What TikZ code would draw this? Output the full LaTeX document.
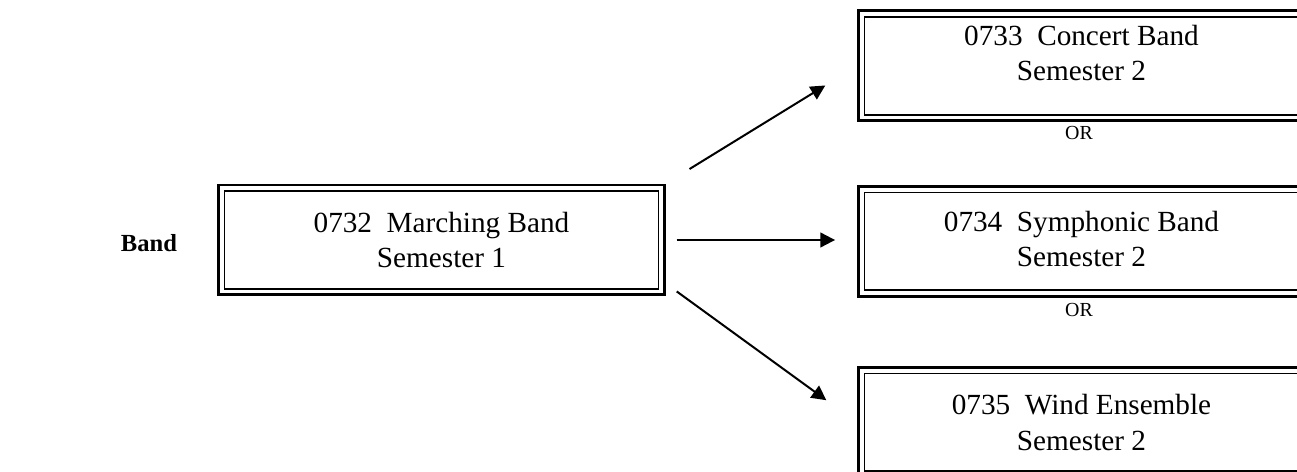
\documentclass[tikz,border=0pt]{standalone}
\usepackage{fontspec}
\setmainfont{Liberation Serif}
\usetikzlibrary{arrows.meta}

\tikzset{
  coursebox/.style={draw, line width=2.25pt, minimum width=11.8cm, minimum height=2.91cm,
    align=center, font=\fontsize{22}{26.5}\selectfont,
    path picture={\draw[line width=1.2pt]
      ([shift={(4.65pt,4.65pt)}]path picture bounding box.south west) rectangle
      ([shift={(-4.65pt,-4.65pt)}]path picture bounding box.north east);}},
  ortext/.style={font=\fontsize{15}{18}\selectfont},
}

\begin{document}
\begin{tikzpicture}[line width=1.5pt,>={Triangle[length=11pt,width=11pt]}]

    \useasboundingbox (0,0) rectangle (34.316,12.488);

    % --------------------------------------------------------- %
    % ------------- title
    % --------------------------------------------------------- %
    \node[font=\fontsize{18.5}{21}\selectfont\bfseries] (band) at (3.942,6.059) {Band};

    % --------------------------------------------------------- %
    % ------------ Semester 1
    % --------------------------------------------------------- %
    \node[coursebox] (marching) at (11.681,6.138) {0732\ \ Marching Band \\ Semester 1};

    % --------------------------------------------------------- %
    % ------------ Semester 2
    % --------------------------------------------------------- %
    % --- Concert node
    \node[coursebox, text depth=19.5pt] (concert) at (28.614,10.742) {0733\ \ Concert Band \\ Semester 2};
    \node[ortext] (or1) at (28.548,8.969) {OR};
    \draw [->, shorten <=20.8pt, shorten >=28pt] (marching.north east) -- (concert.west);
    % --- Symphonic node
    \node[coursebox, text depth=4.5pt] (symphonic) at (28.614,6.099) {0734\ \ Symphonic Band \\ Semester 2};
    \node[ortext] (or2) at (28.548,4.286) {OR};
    \draw [->, shorten <=8pt, shorten >=16.5pt] (marching.east) -- (marching.east -| symphonic.west);
    % --- Wind node
    \node[coursebox] (wind) at (28.614,1.310) {0735\ \ Wind Ensemble \\ Semester 2};
    \draw [->, shorten <=10pt, shorten >=28.5pt] (marching.-11.5) -- (wind.west);

  \end{tikzpicture}
\end{document}
